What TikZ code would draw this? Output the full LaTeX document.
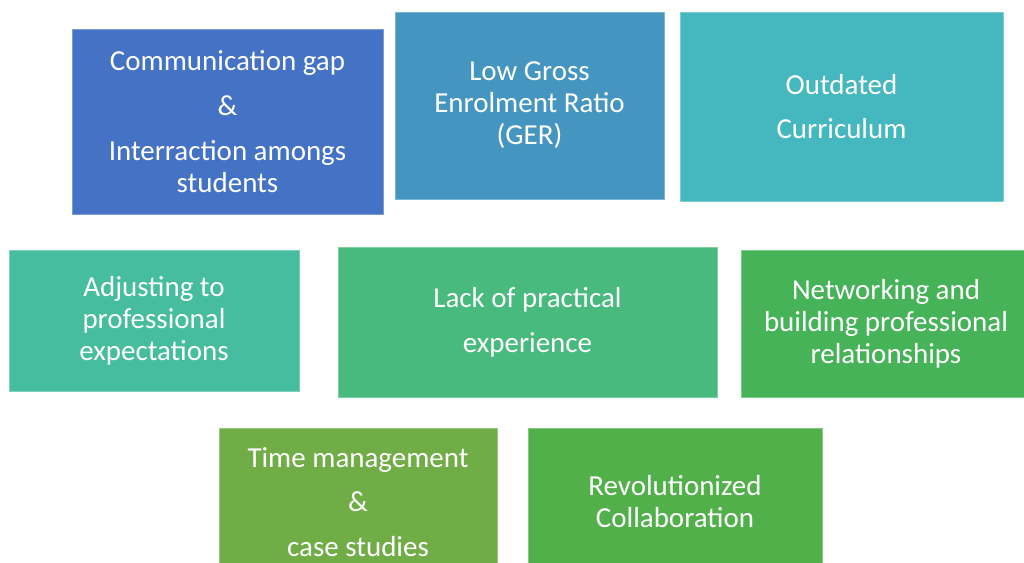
\documentclass[tikz,border=0pt]{standalone}
\usepackage{fontspec}
\setmainfont{Carlito}
\definecolor{boxblue}{HTML}{4472C4}
\definecolor{boxsteel}{HTML}{4496C1}
\definecolor{boxteal}{HTML}{45B7BF}
\definecolor{boxaqua}{HTML}{45BD9E}
\definecolor{boxjade}{HTML}{48BA7E}
\definecolor{boxgreen}{HTML}{47B359}
\definecolor{boxolive}{HTML}{70AD47}
\definecolor{boxlime}{HTML}{52B04B}

\begin{document}
\begin{tikzpicture}[x=0.025cm, y=-0.025cm,
    box/.style={rectangle, fill=#1, draw=#1!70!white, line width=0.4pt, text=white,
                align=center, inner sep=0pt,
                font=\fontsize{20.6}{22.8}\selectfont},
    bigskip/.style={}]
    \clip (0,0) rectangle (1024,563);
    \fill[white] (0,0) rectangle (1024,563);
    % top row
    \node[box=boxblue, minimum width=311*0.025cm, minimum height=185*0.025cm] (comm) at (227.5,121.5)
        {Communication gap\\[9pt] \&\\[9pt] Interraction amongs\\ students};
    \node[box=boxsteel, minimum width=269*0.025cm, minimum height=187*0.025cm] (ger) at (529.5,105.5)
        {Low Gross\\ Enrolment Ratio\\ (GER)};
    \node[box=boxteal, minimum width=323*0.025cm, minimum height=189*0.025cm] (curr) at (841.5,106.5)
        {Outdated\\[9pt] Curriculum};
    % middle row
    \node[box=boxaqua, minimum width=290*0.025cm, minimum height=141*0.025cm] (adjust) at (154,320.5)
        {Adjusting to\\ professional\\ expectations};
    \node[box=boxjade, minimum width=379*0.025cm, minimum height=150*0.025cm] (practical) at (527.5,322)
        {Lack of practical\\[9pt] experience};
    \node[box=boxgreen, minimum width=290*0.025cm, minimum height=147*0.025cm] (network) at (886,323.5)
        {Networking and\\ building professional\\ relationships};
    % bottom row (cut off by the page edge)
    \node[box=boxolive, minimum width=278*0.025cm, minimum height=148*0.025cm] (timemgmt) at (358,502)
        {Time management\\[9pt] \&\\[9pt] case studies};
    \node[box=boxlime, minimum width=294*0.025cm, minimum height=148*0.025cm] (collab) at (675,502)
        {Revolutionized\\ Collaboration};
\end{tikzpicture}
\end{document}
